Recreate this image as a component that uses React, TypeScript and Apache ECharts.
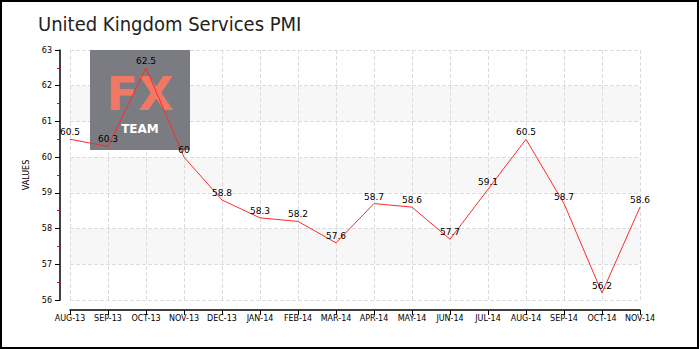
import React, { useEffect, useRef } from "react";
import * as echarts from "echarts";

const categories = ["AUG-13","SEP-13","OCT-13","NOV-13","DEC-13","JAN-14","FEB-14","MAR-14","APR-14","MAY-14","JUN-14","JUL-14","AUG-14","SEP-14","OCT-14","NOV-14"];
const values = [60.5, 60.3, 62.5, 60, 58.8, 58.3, 58.2, 57.6, 58.7, 58.6, 57.7, 59.1, 60.5, 58.7, 56.2, 58.6];
const titleText = "United Kingdom Services PMI";
const yAxisName = "VALUES";

export default function App() {
  const ref = useRef<HTMLDivElement>(null);
  useEffect(() => {
    document.body.style.margin = "0";
    const chart = echarts.init(ref.current!, null, { renderer: "svg" });
    const smallFont = "DejaVu Sans";
    chart.setOption({
      animation: false,
      backgroundColor: "#fff",
      title: {
        text: titleText,
        left: 33,
        top: 9,
        textStyle: { fontFamily: "'DejaVu Sans Condensed', Roboto, sans-serif", fontWeight: 300, fontSize: 20, color: "#222" },
      },
      grid: { left: 70, right: 60, top: 50, bottom: 50 },
      graphic: [
        { type: "rect", shape: { x: 1, y: 1, width: 697, height: 347 }, style: { fill: "none", stroke: "#000", lineWidth: 2 }, z: 100 },
        {
          type: "group", z: 1,
          children: [
            { type: "rect", shape: { x: 90, y: 50, width: 100, height: 100 }, style: { fill: "#7b7b82" }, z: 1 },
            { type: "text", x: 140, y: 94, style: { text: "FX", fill: "#f07864", font: "bold 46px 'DejaVu Sans'", textAlign: "center", textVerticalAlign: "middle" }, z: 1 },
            { type: "text", x: 140, y: 129, style: { text: "TEAM", fill: "#fff", font: "bold 12px 'DejaVu Sans'", textAlign: "center", textVerticalAlign: "middle" }, z: 1 },
          ],
        },
      ],
      xAxis: {
        type: "category",
        data: categories,
        boundaryGap: false,
        offset: 10,
        axisLine: { lineStyle: { color: "#000", width: 1.5 } },
        axisTick: { show: true, length: 5, lineStyle: { color: "#000" }, alignWithLabel: true },
        axisLabel: { fontFamily: smallFont, fontSize: 8, color: "#000", margin: 4, interval: 0 },
        splitLine: { show: true, lineStyle: { color: "#ddd", type: "dashed" } },
      },
      yAxis: {
        type: "value",
        min: 56,
        max: 63,
        interval: 1,
        offset: 10,
        name: yAxisName,
        nameLocation: "middle",
        nameGap: 28,
        nameTextStyle: { fontFamily: smallFont, fontSize: 8, color: "#000" },
        axisLine: { show: true, lineStyle: { color: "#000", width: 1.5 } },
        axisTick: { show: true, length: 5, lineStyle: { color: "#000" } },
        minorTick: { show: true, splitNumber: 2, length: 3, lineStyle: { color: "#f00" } },
        axisLabel: { fontFamily: smallFont, fontSize: 8, color: "#000", margin: 8 },
        splitLine: { show: true, lineStyle: { color: "#ddd", type: "dashed" } },
        splitArea: { show: true, areaStyle: { color: ["rgba(255,255,255,0)", "#f7f7f7"] } },
      },
      series: [
        {
          type: "line",
          data: values,
          showSymbol: true,
          symbol: "circle",
          symbolSize: 1,
          itemStyle: { color: "rgba(255,42,42,0)", borderWidth: 0 },
          lineStyle: { color: "#ff2a2a", width: 1 },
          z: 3,
          label: { show: true, position: "top", fontFamily: smallFont, fontSize: 9, color: "#000", distance: 2 },
        },
      ],
    });
    return () => chart.dispose();
  }, []);
  return <div ref={ref} style={{ width: 700, height: 350 }} />;
}
